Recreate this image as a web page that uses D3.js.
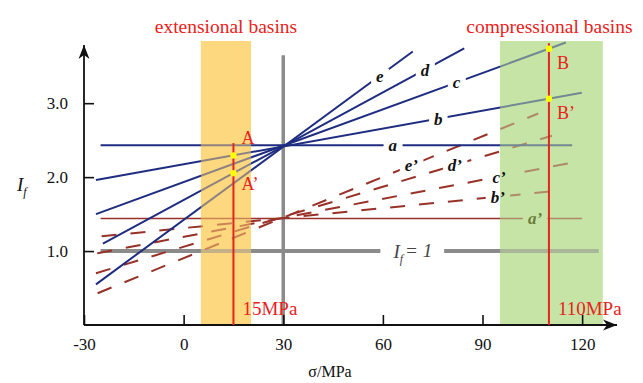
<!DOCTYPE html>
<html>
<head>
<meta charset="utf-8">
<script src="https://cdn.jsdelivr.net/npm/d3@7"></script>
<style>
body{margin:0;background:#fff;}
svg{display:block;font-family:"Liberation Serif","Times New Roman",serif;}
</style>
</head>
<body>
<div id="chart"></div>
<script>
// values
const xTicks = [-30, 0, 30, 60, 90, 120];
const yTicks = [1.0, 2.0, 3.0];

// solid lines a-e, all through sigma = 30
const solidNames = ["a", "b", "c", "d", "e"];
const solidStart = [[-25, 2.43], [-26.4, 1.96], [-26.4, 1.50], [-24.3, 1.10], [-26.4, 0.55]];
const solidEnd = [[117, 2.43], [119.9, 3.14], [115.1, 3.82], [84.5, 3.74], [69, 3.70]];
const solidLabelAt = [63, 76.7, 82.2, 72.7, 59.1];

// dashed lines a'-e'
const dashedNames = ["a\u2019", "b\u2019", "c\u2019", "d\u2019", "e\u2019"];
const dashedStart = [[-25, 1.44], [-24.7, 1.20], [-26, 0.97], [-26.4, 0.70], [-25.9, 0.43]];
const dashedEnd = [[120, 1.44], [113.4, 1.82], [116.4, 2.19], [110.9, 2.56], [106.8, 2.86]];
const dashedLabelAt = [105.8, 94.6, 95.0, 81.7, 68.6];

// basins
const basinNames = ["extensional basins", "compressional basins"];
const basinRange = [[5.2, 20.3], [95.3, 126.2]];
const basinStress = [15, 110];
const basinStressTop = [2.46, 3.81];
const basinPointNames = [["A", "A\u2019"], ["B", "B\u2019"]];
const basinPointLines = [[1, 3], [2, 1]];   // index into solid lines

const unityLevel = 1.0;
const pivotStress = 30;

var width = 643, height = 383;

var x = d3.scaleLinear().domain([-30, 130.5]).range([84, 617]);
var y = d3.scaleLinear().domain([0, 3.76]).range([325, 47]);

var navy = "#1f2d80", brown = "#983128", red = "#e8221c", gray = "#8b8b8b";
var bandColors = ["#fdd87f", "#c6e4a6"];

var svg = d3.select("#chart").append("svg")
  .attr("width", width)
  .attr("height", height);
var defs = svg.append("defs");

function yAt(s, e, v) {
  return s[1] + (e[1] - s[1]) * (v - s[0]) / (e[0] - s[0]);
}

// bands (opaque base)
var bandTop = 3.84;
svg.append("g").selectAll("rect")
  .data(basinRange)
  .enter().append("rect")
  .attr("x", d => x(d[0]))
  .attr("width", d => x(d[1]) - x(d[0]))
  .attr("y", y(bandTop))
  .attr("height", y(0) - y(bandTop))
  .attr("fill", (d, i) => bandColors[i]);

// mask that cuts the lines where labels sit
var mask = defs.append("mask")
  .attr("id", "gaps")
  .attr("maskUnits", "userSpaceOnUse")
  .attr("x", 0).attr("y", 0).attr("width", width).attr("height", height);
mask.append("rect")
  .attr("width", width).attr("height", height)
  .attr("fill", "#fff");

var lines = svg.append("g").attr("mask", "url(#gaps)");

// reference lines
lines.append("line")
  .attr("x1", x(pivotStress)).attr("x2", x(pivotStress))
  .attr("y1", y(0)).attr("y2", y(3.65))
  .attr("stroke", gray).attr("stroke-width", 3.5);
lines.append("line")
  .attr("x1", x(-25)).attr("x2", x(125))
  .attr("y1", y(unityLevel)).attr("y2", y(unityLevel))
  .attr("stroke", gray).attr("stroke-width", 4);

// dashed family
lines.selectAll(".dash")
  .data(dashedNames)
  .enter().append("line")
  .attr("class", "dash")
  .attr("x1", (d, i) => x(dashedStart[i][0]))
  .attr("y1", (d, i) => y(dashedStart[i][1]))
  .attr("x2", (d, i) => x(dashedEnd[i][0]))
  .attr("y2", (d, i) => y(dashedEnd[i][1]))
  .attr("stroke", brown)
  .attr("stroke-width", (d, i) => i === 0 ? 1.5 : 2)
  .attr("stroke-dasharray", (d, i) => i === 0 ? null : "15,14");

// solid family
lines.selectAll(".solid")
  .data(solidNames)
  .enter().append("line")
  .attr("class", "solid")
  .attr("x1", (d, i) => x(solidStart[i][0]))
  .attr("y1", (d, i) => y(solidStart[i][1]))
  .attr("x2", (d, i) => x(solidEnd[i][0]))
  .attr("y2", (d, i) => y(solidEnd[i][1]))
  .attr("stroke", navy)
  .attr("stroke-width", 2);

// bands again, translucent, so lines show through
svg.append("g").selectAll("rect")
  .data(basinRange)
  .enter().append("rect")
  .attr("x", d => x(d[0]))
  .attr("width", d => x(d[1]) - x(d[0]))
  .attr("y", y(bandTop))
  .attr("height", y(0) - y(bandTop))
  .attr("fill", (d, i) => bandColors[i])
  .attr("opacity", 0.5);

// labels sitting in gaps of the lines
var labels = svg.append("g");
function gapLabel(px, py, padX, build) {
  var t = labels.append("text")
    .attr("x", px).attr("y", py)
    .attr("dy", "0.35em")
    .attr("text-anchor", "middle");
  build(t);
  var b = t.node().getBBox();
  mask.append("rect")
    .attr("x", b.x - padX).attr("y", b.y + 2)
    .attr("width", b.width + 2 * padX).attr("height", b.height - 4)
    .attr("fill", "#000");
}

solidNames.forEach(function(n, i) {
  var v = solidLabelAt[i];
  gapLabel(x(v), y(yAt(solidStart[i], solidEnd[i], v)), 5, function(t) {
    t.text(n).attr("font-size", 17).attr("font-weight", "bold").attr("font-style", "italic").attr("fill", "#111");
  });
});
dashedNames.forEach(function(n, i) {
  var v = dashedLabelAt[i];
  gapLabel(x(v), y(yAt(dashedStart[i], dashedEnd[i], v)), 5, function(t) {
    t.text(n).attr("font-size", 17).attr("font-weight", "bold").attr("font-style", "italic")
      .attr("fill", i === 0 ? "#6b7d3c" : "#111");
  });
});
gapLabel(x(69), y(unityLevel), 12, function(t) {
  t.attr("font-size", 19).attr("font-style", "italic").attr("fill", "#444");
  t.append("tspan").text("I");
  t.append("tspan").text("f").attr("font-size", 12).attr("dy", "0.45em");
  t.append("tspan").text("= 1").attr("dy", "-0.3em").attr("dx", 2);
});

// axes
defs.append("marker")
  .attr("id", "arrow")
  .attr("markerUnits", "userSpaceOnUse")
  .attr("viewBox", "-14 -6 16 12")
  .attr("refX", 0).attr("refY", 0)
  .attr("markerWidth", 16).attr("markerHeight", 12)
  .attr("orient", "auto")
  .append("path")
  .attr("d", "M0,0L-14,-5.5L-10,0L-14,5.5Z")
  .attr("fill", "#111");

var xAxis = svg.append("g")
  .attr("transform", "translate(0," + y(0) + ")")
  .call(d3.axisBottom(x).tickValues(xTicks).tickFormat(d => String(d))
    .tickSize(-10).tickSizeOuter(0).tickPadding(13));
var yAxis = svg.append("g")
  .attr("transform", "translate(" + x(-30) + ",0)")
  .call(d3.axisLeft(y).tickValues(yTicks).tickFormat(d => d.toFixed(1))
    .tickSize(-10).tickSizeOuter(0).tickPadding(16));
[xAxis, yAxis].forEach(function(a) {
  a.select(".domain").remove();
  a.selectAll("line").attr("stroke", "#111").attr("stroke-width", 1.6);
  a.selectAll("text").attr("font-family", "Liberation Serif").attr("font-size", 17).attr("fill", "#111");
});

svg.append("line")
  .attr("x1", x(-30)).attr("x2", 617)
  .attr("y1", y(0)).attr("y2", y(0))
  .attr("stroke", "#111").attr("stroke-width", 1.8)
  .attr("marker-end", "url(#arrow)");
svg.append("line")
  .attr("x1", x(-30)).attr("x2", x(-30))
  .attr("y1", y(0)).attr("y2", 45)
  .attr("stroke", "#111").attr("stroke-width", 1.8)
  .attr("marker-end", "url(#arrow)");

svg.append("text")
  .attr("x", 330).attr("y", 377)
  .attr("text-anchor", "middle")
  .attr("font-size", 16)
  .attr("fill", "#111")
  .text("\u03c3/MPa");

var yl = svg.append("text")
  .attr("x", 17).attr("y", 191)
  .attr("font-size", 19)
  .attr("font-style", "italic")
  .attr("fill", "#111");
yl.append("tspan").text("I");
yl.append("tspan").text("f").attr("font-size", 12).attr("dy", "0.4em");

// basin stress lines, points and titles
var pointOffsets = [[-11, 17], [20, 20]];
basinStress.forEach(function(s, k) {
  svg.append("line")
    .attr("x1", x(s)).attr("x2", x(s))
    .attr("y1", y(0)).attr("y2", y(basinStressTop[k]))
    .attr("stroke", red).attr("stroke-width", 2);
  svg.append("text")
    .attr("x", x(s) + 9).attr("y", 315)
    .attr("font-size", 19)
    .attr("fill", red)
    .text(s + "MPa");
  svg.append("text")
    .attr("x", (x(basinRange[k][0]) + x(basinRange[k][1])) / 2 + (k === 1 ? -2 : 0))
    .attr("y", 33)
    .attr("text-anchor", "middle")
    .attr("font-size", 19.5)
    .attr("fill", red)
    .text(basinNames[k]);
  basinPointLines[k].forEach(function(li, j) {
    var py = y(yAt(solidStart[li], solidEnd[li], s));
    svg.append("circle")
      .attr("cx", x(s)).attr("cy", py).attr("r", 3.2)
      .attr("fill", "#ffff00");
    svg.append("text")
      .attr("x", x(s) + 8).attr("y", py + pointOffsets[k][j])
      .attr("font-size", 18)
      .attr("fill", red)
      .text(basinPointNames[k][j]);
  });
});
</script>
</body>
</html>
